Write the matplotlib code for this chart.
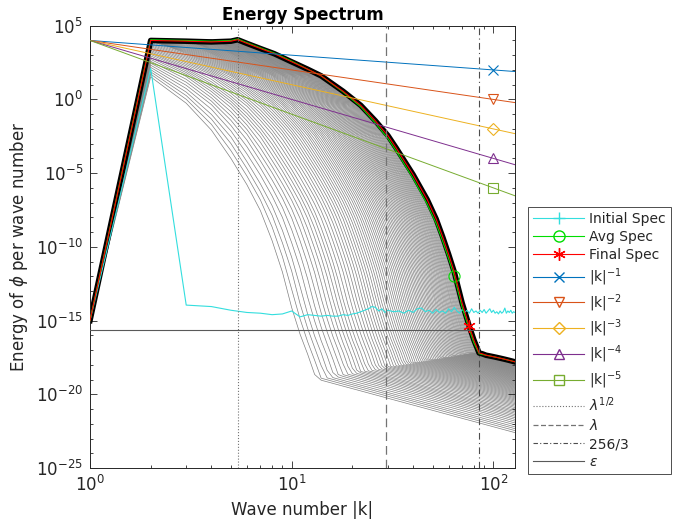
import numpy as np
import matplotlib
matplotlib.use("Agg")
import matplotlib.pyplot as plt
from matplotlib.lines import Line2D
from matplotlib.ticker import FixedLocator, NullFormatter

# ---------------------------------------------------------------
# values (log10 of energy per wave number)
# ---------------------------------------------------------------
final_k = [1, 2, 3, 4, 5, 5.4, 6, 7, 8.2, 10, 12, 14, 18, 22, 26, 30, 33,
           40, 47, 52, 56, 60, 64, 70, 76, 80, 85, 88, 92, 96, 100, 104,
           108, 112, 116, 120, 124, 128]
final_logE = [-15.0, 4.0, 3.95, 3.9, 3.95, 4.05, 3.8, 3.45, 3.1, 2.55, 2.05,
              1.6, 0.55, -0.4, -1.45, -2.45, -3.3, -5.1, -6.8, -8.1, -9.3,
              -10.5, -11.7, -13.8, -15.4, -16.3, -17.2, -17.25, -17.35,
              -17.4, -17.45, -17.5, -17.55, -17.6, -17.65, -17.7, -17.75,
              -17.8]
avg_logE = [-15.0, 4.05, 4.0, 3.95, 4.0, 4.1, 3.85, 3.5, 3.15, 2.6, 2.05,
            1.6, 0.5, -0.5, -1.6, -2.65, -3.5, -5.35, -7.1, -8.4, -9.6,
            -10.8, -12.0, -14.1, -15.6, -16.5, -17.25, -17.3, -17.35,
            -17.4, -17.45, -17.5, -17.55, -17.6, -17.65, -17.7, -17.75,
            -17.8]

init_k = list(range(1, 31)) + list(range(32, 129, 2))
init_logE = [-15.0, 2.1, -13.95, -14.05, -14.3, -14.45, -14.5, -14.6, -14.55,
             -14.35, -14.75, -14.6, -14.65, -14.7, -14.65, -14.7, -14.7,
             -14.6, -14.65, -14.55, -14.5, -14.4, -14.3, -14.2, -14.05,
             -14.1, -14.35, -14.2, -14.45, -14.3,
             -14.4, -14.35, -14.5, -14.3, -14.45, -14.2, -14.15, -14.4,
             -14.3, -14.5, -14.25, -14.45, -14.35, -14.5, -14.2, -14.4,
             -14.1, -14.35, -14.5, -14.25, -14.45, -14.3, -14.5, -14.2,
             -14.45, -14.35, -14.5, -14.3, -14.45, -14.25, -14.5, -14.35,
             -14.2, -14.45, -14.3, -14.5, -14.4, -14.55, -14.35, -14.5,
             -14.4, -14.15, -14.5, -14.35, -14.45, -14.3, -14.5, -14.4,
             -14.45]

# intermediate spectra: wave number where each one drops through 1e-15
gray_cutoffs = [10.4, 11.0, 11.6, 12.2, 12.9, 13.6, 14.3, 15.0, 15.7, 16.4,
                17.1, 17.8, 18.5, 19.2, 20.0, 20.8, 21.6, 22.4, 23.2, 24.0,
                24.8, 25.6, 26.4, 27.2, 28.0, 28.8, 29.6, 30.4, 31.2, 32.0,
                32.8, 33.6, 34.4, 35.2, 36.0, 36.8, 37.6, 38.4, 39.2, 40.0,
                40.8, 41.6, 42.4, 43.2, 44.0, 44.8, 45.6, 46.4, 47.2, 48.0,
                48.8, 49.6, 50.4, 51.2, 52.0, 52.8, 53.6, 54.4, 55.2, 56.0,
                56.8, 57.6, 58.4, 59.2, 60.0, 60.8, 61.6, 62.4, 63.2, 64.0,
                64.8, 65.6, 66.4, 67.2, 68.0, 68.8, 69.6, 70.4, 71.2, 72.0,
                72.8, 73.6]
k_cross = 74.0                       # final spectrum crosses 1e-15 here
tail_k = [100, 128, 200, 400, 1000]  # steep cliff continued past 256/3
tail_logE = [-20.0, -24.3, -32.0, -44.0, -60.0]
floor_first, floor_last = -22.6, -17.8   # noise floor at k = 128
floor_slope = -3.7                       # decades per decade

power_C = 1e4
power_exps = [1, 2, 3, 4, 5]
power_colors = ["#0072BD", "#D95319", "#EDB120", "#7E2F8E", "#77AC30"]
power_markers = ["x", "v", "D", "^", "s"]

lam = 29.35
eps = 2.22e-16
k_max = 128

ASTER = (6, 2, 0)   # matlab-like '*' marker

# ---------------------------------------------------------------
fig = plt.figure(figsize=(6.73, 5.29), dpi=100)
ax = fig.add_axes([0.1337, 0.1153, 0.6315, 0.8361])

kk = np.arange(1, k_max + 1)
i85 = final_k.index(85)
prof_k = np.log10(np.array(final_k[1:i85 + 1] + tail_k, dtype=float))
prof_E = np.array(final_logE[1:i85 + 1] + tail_logE)
lo, hi = np.log10(gray_cutoffs[0]), np.log10(gray_cutoffs[-1])
for kc in gray_cutoffs:
    shift = np.log10(k_cross / kc)
    top = np.interp(np.log10(kk) + shift, prof_k, prof_E)
    frac = (np.log10(kc) - lo) / (hi - lo)
    fend = floor_first + frac * (floor_last - floor_first)
    floor = fend + floor_slope * (np.log10(kk) - np.log10(k_max))
    logE = np.maximum(top, floor)
    logE[0] = final_logE[0]
    ax.plot(kk, 10.0 ** logE, color="0.5", lw=0.5, zorder=1)

fk = np.array(final_k, dtype=float)
ax.plot(fk, 10.0 ** np.array(final_logE), color="k", lw=4, zorder=2,
        solid_joinstyle="round")

ax.plot(init_k, 10.0 ** np.array(init_logE), color="#33dede", lw=0.8, zorder=3)
ax.plot(fk, 10.0 ** np.array(avg_logE), color="#00dd00", lw=0.8, zorder=4,
        marker="o", ms=8, mfc="none", mew=0.8, markevery=[final_k.index(64)])
ax.plot(fk, 10.0 ** np.array(final_logE), color="r", lw=0.8, zorder=5,
        marker=ASTER, ms=9, mew=0.9, markevery=[final_k.index(76)])

pk = np.array([1.0, 100.0, k_max])
for n, c, m in zip(power_exps, power_colors, power_markers):
    ax.plot(pk, power_C * pk ** (-n), color=c, lw=0.7, zorder=6,
            marker=m, ms=7 if m != "D" else 6, mfc="none", mew=0.8,
            markevery=[1])

ax.axvline(np.sqrt(lam), color="0.45", lw=0.8, ls=":", zorder=7)
ax.axvline(lam, color="0.45", lw=0.9, ls=(0, (7, 4)), zorder=7)
ax.axvline(256 / 3, color="0.3", lw=0.8, ls=(0, (6, 3, 1, 3)), zorder=7)
ax.axhline(eps, color="0.35", lw=0.8, zorder=7)

ax.set_xscale("log")
ax.set_yscale("log")
ax.set_xlim(1, k_max)
ax.set_ylim(1e-25, 1e5)
ax.set_yticks([10.0 ** e for e in range(-25, 6, 5)])
ax.yaxis.set_minor_locator(FixedLocator([10.0 ** e for e in range(-25, 6)]))
ax.yaxis.set_minor_formatter(NullFormatter())

ax.tick_params(which="both", direction="in", top=True, right=True,
               color="0.15", labelcolor="0.15", width=0.6)
ax.tick_params(which="major", length=5, labelsize=12, pad=5)
ax.tick_params(which="minor", length=2.5)
for s in ax.spines.values():
    s.set_linewidth(0.7)
    s.set_color("0.15")

ax.set_title("Energy Spectrum", fontsize=12, fontweight="bold", pad=4)
ax.set_xlabel("Wave number |k|", fontsize=12, color="0.15")
ax.set_ylabel(r"Energy of $\phi$ per wave number", fontsize=12, color="0.15")

handles = [
    Line2D([], [], color="#33dede", lw=0.8, marker="+", ms=8),
    Line2D([], [], color="#00dd00", lw=0.8, marker="o", ms=8, mfc="none"),
    Line2D([], [], color="r", lw=0.8, marker=ASTER, ms=9),
]
for c, m in zip(power_colors, power_markers):
    handles.append(Line2D([], [], color=c, lw=0.8, marker=m,
                          ms=7 if m != "D" else 6, mfc="none"))
handles += [
    Line2D([], [], color="0.45", lw=0.8, ls=":"),
    Line2D([], [], color="0.45", lw=0.9, ls=(0, (4, 2))),
    Line2D([], [], color="0.3", lw=0.8, ls=(0, (4, 2, 1, 2))),
    Line2D([], [], color="0.35", lw=0.8),
]
labels = ["Initial Spec", "Avg Spec", "Final Spec"]
labels += [r"$\mathrm{|k|}^{-%d}$" % n for n in power_exps]
labels += [r"$\lambda^{1/2}$", r"$\lambda$", "256/3", r"$\epsilon$"]

leg = fig.legend(handles, labels, loc="upper left",
                 bbox_to_anchor=(528 / 673, 1 - 207 / 529),
                 fontsize=10, handlelength=3.7, handletextpad=0.35,
                 labelspacing=0.3, borderpad=0.35, fancybox=False,
                 framealpha=1, edgecolor="0.3", borderaxespad=0)
leg.get_frame().set_linewidth(0.7)
for t in leg.get_texts():
    t.set_color("0.15")

fig.savefig("out.png", dpi=100)
